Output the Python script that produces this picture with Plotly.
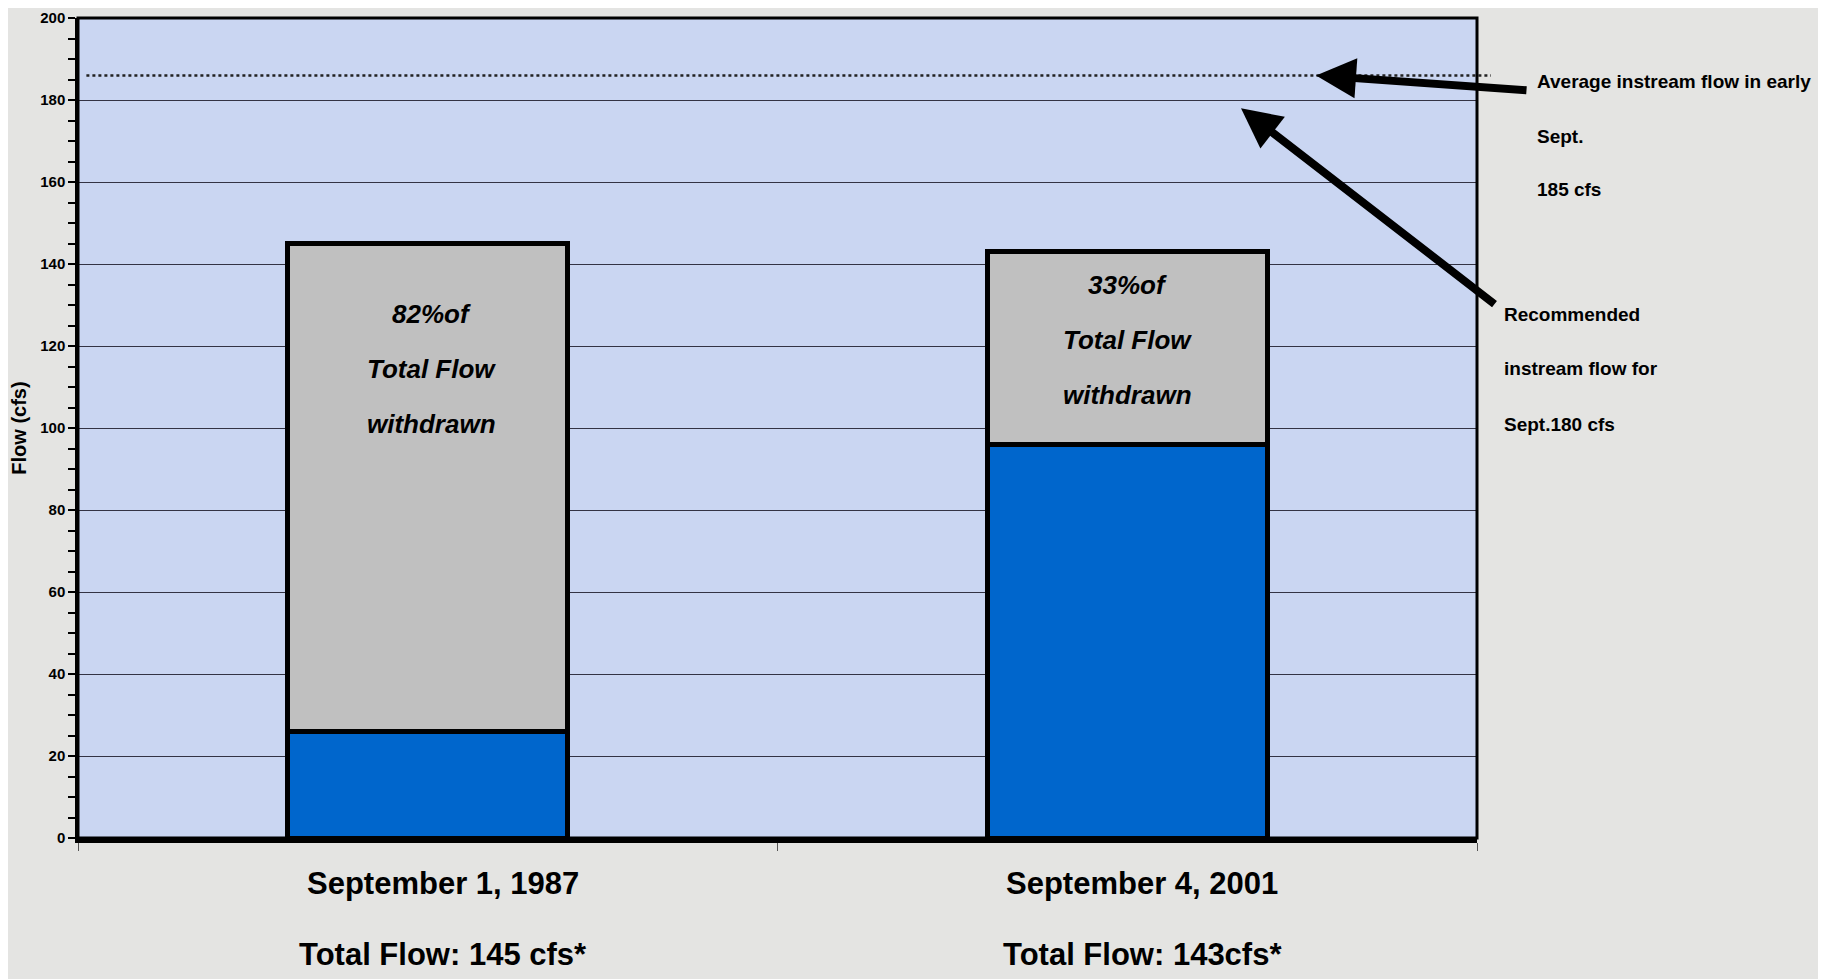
import plotly.graph_objects as go

# ---- data ----
categories = ["September 1, 1987", "September 4, 2001"]
total_labels = ["Total Flow: 145 cfs*", "Total Flow: 143cfs*"]
remaining_flow = [26, 96]      # blue (flow left in stream)
withdrawn_flow = [119, 47]     # gray (withdrawn)
withdrawn_text = ["82%of<br>Total Flow<br>withdrawn", "33%of<br>Total Flow<br>withdrawn"]
avg_flow = 186                 # dotted line (Average instream flow in early Sept.)
rec_arrow_y = 178
y_ticks = [0, 20, 40, 60, 80, 100, 120, 140, 160, 180, 200]
avg_text = ["Average instream flow in early", "Sept.", "185 cfs"]
rec_text = ["Recommended", "instream flow for", "Sept.180 cfs"]

FONT = "Liberation Sans, Arial, sans-serif"

W, H = 1818, 971
L, R, T, B = 70, 349, 10, 141
PH = H - T - B


def py(page_y):
    """page pixel y -> paper fraction (page has 8px body margin)"""
    return 1 - ((page_y - 8) - T) / PH


def px(page_x):
    return ((page_x - 8) - L) / (W - L - R)


fig = go.Figure()
fig.add_trace(go.Bar(
    x=categories, y=remaining_flow, marker=dict(color="#0066CC", line=dict(color="black", width=5)),
    showlegend=False, hoverinfo="skip"))
fig.add_trace(go.Bar(
    x=categories, y=withdrawn_flow, marker=dict(color="#C0C0C0", line=dict(color="black", width=5)),
    showlegend=False, hoverinfo="skip"))

annotations = []
first_line_y = [127.7, 134.8]
for i, cat in enumerate(categories):
    lines = withdrawn_text[i].split("<br>")
    for j, ln in enumerate(lines):
        annotations.append(dict(
            x=cat, y=first_line_y[i] - j * 13.4, xref="x", yref="y", text="<b><i>" + ln + "</i></b>",
            showarrow=False, font=dict(family=FONT, size=26, color="black"),
            xanchor="center", yanchor="middle", xshift=4 if i == 0 else 0))
    annotations.append(dict(
        x=cat, y=py(883), xref="x", yref="paper", text="<b>" + cat + "</b>", showarrow=False,
        font=dict(family=FONT, size=31, color="black"), xanchor="center", yanchor="middle", xshift=15))
    annotations.append(dict(
        x=cat, y=py(955), xref="x", yref="paper", text="<b>" + total_labels[i] + "</b>", showarrow=False,
        font=dict(family=FONT, size=31, color="black"), xanchor="center", yanchor="middle", xshift=15))

for j, ln in enumerate(avg_text):
    annotations.append(dict(
        x=px(1535), y=py(82 + j * 54), xref="paper", yref="paper", text="<b>" + ln + "</b>",
        showarrow=False, font=dict(family=FONT, size=19, color="black"), xanchor="left", yanchor="middle"))
for j, ln in enumerate(rec_text):
    annotations.append(dict(
        x=px(1502), y=py(314 + j * 55), xref="paper", yref="paper", text="<b>" + ln + "</b>",
        showarrow=False, font=dict(family=FONT, size=19, color="black"), xanchor="left", yanchor="middle"))

annotations.append(dict(
    x=px(1316), y=avg_flow, xref="paper", yref="y", text="", showarrow=True,
    ax=212, ay=15, arrowhead=2, arrowsize=1.0, arrowwidth=8, arrowcolor="black"))
annotations.append(dict(
    x=px(1241), y=rec_arrow_y, xref="paper", yref="y", text="", showarrow=True,
    ax=255, ay=197, arrowhead=2, arrowsize=1.0, arrowwidth=8, arrowcolor="black"))

shapes = [dict(type="line", xref="paper", yref="y", x0=0.006, x1=1.01, y0=avg_flow, y1=avg_flow,
               line=dict(color="#222222", width=2.5, dash="dot"))]

fig.update_layout(
    barmode="stack", bargap=0.6,
    width=W, height=H,
    margin=dict(l=L, r=R, t=T, b=B),
    paper_bgcolor="#e4e4e2", plot_bgcolor="#cad6f2",
    annotations=annotations, shapes=shapes,
    xaxis=dict(automargin=False, showticklabels=False, showline=True, linecolor="black", linewidth=5, mirror=False,
               ticks="outside", tickson="boundaries", ticklen=8, tickcolor="#555555", tickwidth=1,
               showgrid=False, zeroline=False),
    yaxis=dict(automargin=False, range=[0, 200], tickvals=y_ticks, ticktext=["<b>%d</b>" % v for v in y_ticks],
               showline=True, linecolor="black", linewidth=2.5,
               ticks="outside", ticklen=7, tickcolor="black", tickwidth=1.5,
               minor=dict(dtick=5, ticks="outside", ticklen=7, tickcolor="black", tickwidth=1.5, showgrid=False),
               showgrid=True, gridcolor="#333344", gridwidth=1, zeroline=False,
               tickfont=dict(family=FONT, size=15, color="black"),
               title=dict(text="<b>Flow (cfs)</b>", font=dict(family=FONT, size=20, color="black"), standoff=14)),
)
fig.add_shape(type="rect", xref="paper", yref="paper", x0=0, x1=1, y0=0, y1=1,
              line=dict(color="black", width=3), layer="above")

fig.write_html("out.html")
